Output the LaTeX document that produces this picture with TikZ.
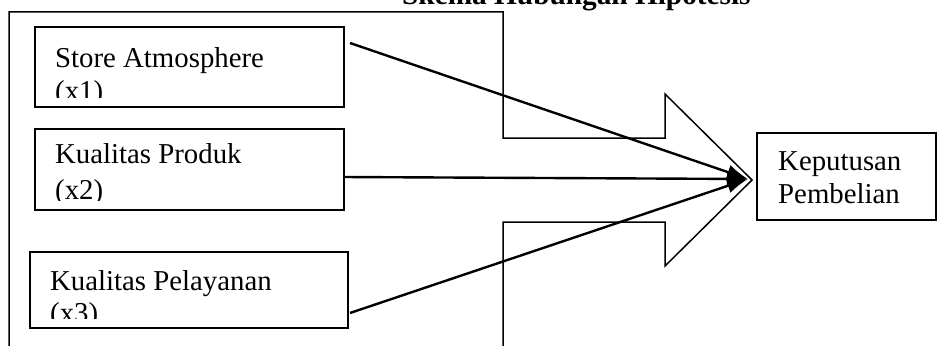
\documentclass[tikz,border=0pt]{standalone}
\usepackage{fontspec}
\setmainfont{Liberation Serif}
\usetikzlibrary{arrows.meta}
\begin{document}
\begin{tikzpicture}[x=1pt,y=-1pt,
  boxframe/.style={draw,line width=1.5pt,inner sep=0pt},
  lbl/.style={anchor=base west,inner sep=0pt,font=\fontsize{28.8}{33}\selectfont},
  ttl/.style={anchor=base west,inner sep=0pt,font=\fontsize{29.3}{33}\selectfont\bfseries},
  link/.style={line width=2.4pt,-{Latex[length=21pt,width=15pt]}},
  block/.style={draw,line width=1.5pt,line join=miter}]
\useasboundingbox (0,0) rectangle (949,345);
\clip (0,0) rectangle (949,345);
% title (cut off at the top)
\node[ttl] (title) at (402,5) {Skema Hubungan Hipotesis};
% big block arrow
\draw[block] (9,346) -- (9,12) -- (503,12) -- (503,138) -- (665,138) -- (665,94)
  -- (752,180) -- (665,266) -- (665,222) -- (503,222) -- (503,346);
% boxes
\node[boxframe,minimum width=309pt,minimum height=80pt] (b1) at (189.5,67) {};
\node[boxframe,minimum width=309pt,minimum height=81pt] (b2) at (189.5,169.5) {};
\node[boxframe,minimum width=318pt,minimum height=76pt] (b3) at (189,290) {};
\node[boxframe,minimum width=179pt,minimum height=87pt] (y) at (846.5,176.5) {};
% clipped texts
\begin{scope}
\clip (35,27) rectangle (344,97);
\node[lbl] (t1a) at (55,67) {Store Atmosphere};
\node[lbl] (t1b) at (55,100) {(x1)};
\end{scope}
\begin{scope}
\clip (35,129) rectangle (344,200);
\node[lbl] (t2a) at (55,163) {Kualitas Produk};
\node[lbl] (t2b) at (55,199) {(x2)};
\end{scope}
\begin{scope}
\clip (30,252) rectangle (348,318);
\node[lbl] (t3a) at (50,290) {Kualitas Pelayanan};
\node[lbl] (t3b) at (50,322) {(x3)};
\end{scope}
\node[lbl] (ya) at (778,170) {Keputusan};
\node[lbl] (yb) at (778,203) {Pembelian};
% connectors
\coordinate (s1) at (350,43);
\coordinate (s2) at (343,177);
\coordinate (s3) at (350,313);
\coordinate (tip) at (748,179);
\draw[link] (s1) -- (tip);
\draw[link] (s2) -- (tip);
\draw[link] (s3) -- (tip);
\end{tikzpicture}
\end{document}
